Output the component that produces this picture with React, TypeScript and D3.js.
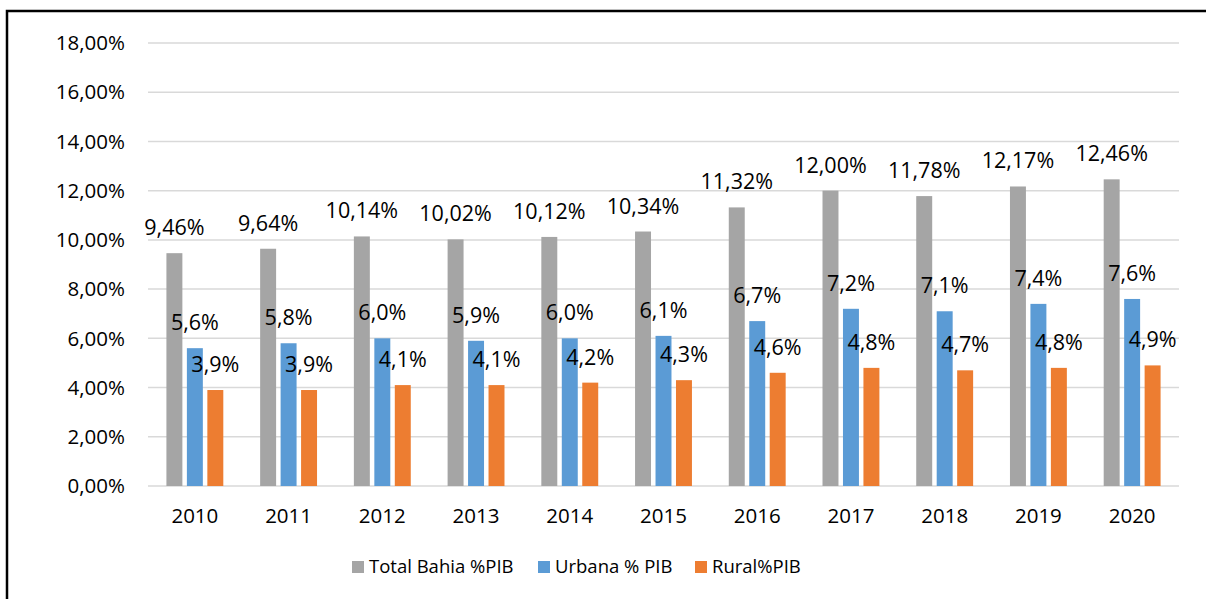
import React from "react";
import * as d3 from "d3";

const years = ["2010", "2011", "2012", "2013", "2014", "2015", "2016", "2017", "2018", "2019", "2020"];
const totalBahia = [9.46, 9.64, 10.14, 10.02, 10.12, 10.34, 11.32, 12.0, 11.78, 12.17, 12.46];
const urbana = [5.6, 5.8, 6.0, 5.9, 6.0, 6.1, 6.7, 7.2, 7.1, 7.4, 7.6];
const rural = [3.9, 3.9, 4.1, 4.1, 4.2, 4.3, 4.6, 4.8, 4.7, 4.8, 4.9];
const yTicks = [0, 2, 4, 6, 8, 10, 12, 14, 16, 18];

const seriesNames = ["Total Bahia %PIB", "Urbana % PIB", "Rural%PIB"];
const seriesColors = ["#a5a5a5", "#5b9bd5", "#ed7d31"];
const seriesDigits = [2, 1, 1];

export default function App() {
  const width = 1206;
  const height = 599;
  const margin = { top: 43, right: 27, bottom: 113, left: 148 };
  const font = "'Open Sans', 'Noto Sans', sans-serif";

  const series = [totalBahia, urbana, rural];

  // scales
  const x = d3.scaleBand().domain(years).range([margin.left, width - margin.right]).padding(0);
  const xInner = d3
    .scaleBand()
    .domain(seriesNames)
    .range([0, x.bandwidth()])
    .paddingInner(0.22)
    .paddingOuter(0.9);
  const y = d3.scaleLinear().domain([0, 18]).range([height - margin.bottom, margin.top]);

  const fmt = (v, d) => v.toFixed(d).replace(".", ",") + "%";

  // legend layout
  const legendX = [352, 538, 695];

  return (
    <svg
      width={width}
      height={height}
      style={{ position: "absolute", left: 0, top: 0, background: "#fff" }}
      fontFamily={font}
    >
      <rect x={7} y={11} width={1400} height={800} fill="none" stroke="#000" strokeWidth={2.5} />

      {/* gridlines and y ticks */}
      {yTicks.map((t) => (
        <g key={t}>
          <line
            x1={margin.left}
            x2={width - margin.right}
            y1={y(t)}
            y2={y(t)}
            stroke="#d9d9d9"
            strokeWidth={1.5}
          />
          <text x={125} y={y(t)} dy="0.35em" textAnchor="end" fontSize={20.5} fill="#000">
            {fmt(t, 2)}
          </text>
        </g>
      ))}

      {/* bars */}
      {series.map((vals, si) =>
        vals.map((v, i) => {
          const bx = x(years[i]) + xInner(seriesNames[si]);
          return (
            <rect
              key={si + "-" + i}
              x={bx}
              y={y(v)}
              width={xInner.bandwidth()}
              height={y(0) - y(v)}
              fill={seriesColors[si]}
            />
          );
        })
      )}

      {/* data labels */}
      {series.map((vals, si) =>
        vals.map((v, i) => {
          const cx = x(years[i]) + xInner(seriesNames[si]) + xInner.bandwidth() / 2;
          return (
            <text
              key={"l" + si + "-" + i}
              x={cx}
              y={y(v) - 18}
              textAnchor="middle"
              fontSize={21.5}
              fill="#000"
            >
              {fmt(v, seriesDigits[si])}
            </text>
          );
        })
      )}

      {/* x axis labels */}
      {years.map((yr) => (
        <text
          key={yr}
          x={x(yr) + x.bandwidth() / 2}
          y={y(0) + 37}
          textAnchor="middle"
          fontSize={20.5}
          fill="#000"
        >
          {yr}
        </text>
      ))}

      {/* legend */}
      {seriesNames.map((n, i) => (
        <g key={n} transform={`translate(${legendX[i]},561)`}>
          <rect x={0} y={0} width={12} height={12} fill={seriesColors[i]} />
          <text x={17} y={6} dy="0.35em" fontSize={18.5} fill="#000">
            {n}
          </text>
        </g>
      ))}
    </svg>
  );
}
